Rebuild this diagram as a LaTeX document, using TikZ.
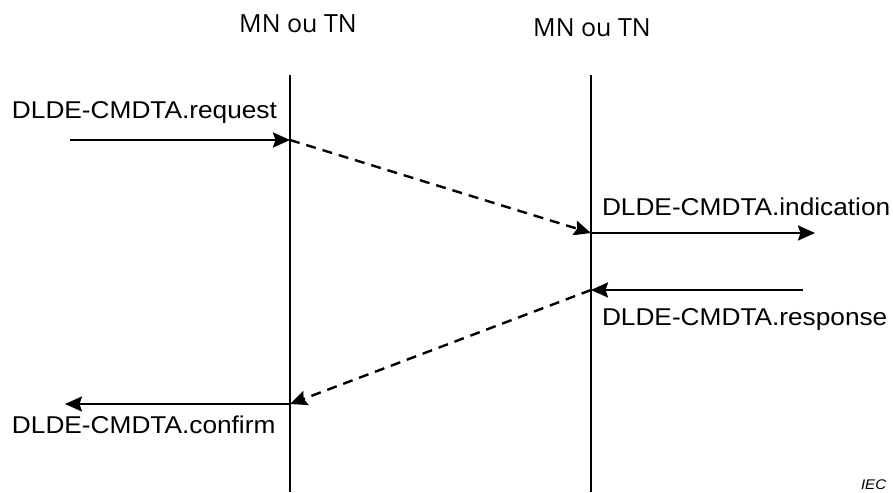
\documentclass[tikz,border=0pt]{standalone}
\usepackage{fontspec}
\setmainfont{Liberation Sans}[FakeStretch=1.08]
\newfontfamily\headfont{Open Sans}
\usetikzlibrary{arrows.meta}

\begin{document}
\begin{tikzpicture}
            [x=1pt,y=-1pt,every node/.style={inner sep=0,outer sep=0},
             lbl/.style={anchor=base west,font=\fontsize{24.3}{28}\selectfont},
             head/.style={anchor=base,font=\headfont\fontsize{25}{29}\selectfont},
             life/.style={line width=2.4pt, black},
             msg/.style={line width=2.4pt, black,-{Stealth[length=17pt,width=15pt,inset=2.5pt]}},
             flow/.style={msg,dash pattern=on 10pt off 7pt}]

            \useasboundingbox (0,0) rectangle (893,492);

            \node[head] (h1) at (298,33) {MN ou TN};
            \node[head] (h2) at (592,37) {MN ou TN};

            \coordinate (t1) at (290,75);
            \coordinate (b1) at (290,492);
            \coordinate (t2) at (591,75);
            \coordinate (b2) at (591,492);

            \coordinate (req) at (290,140);
            \coordinate (ind) at (591,233);
            \coordinate (rsp) at (591,290);
            \coordinate (cnf) at (290,404);
            \coordinate (reqin) at (70,140);
            \coordinate (indout) at (815,233);
            \coordinate (rspin) at (803,290);
            \coordinate (cnfout) at (65,404);

            \node[lbl] (l1) at (12,118) {DLDE-CMDTA.request};
            \node[lbl] (l2) at (602,215) {DLDE-CMDTA.indication};
            \node[lbl] (l3) at (602,325) {DLDE-CMDTA.response};
            \node[lbl] (l4) at (12,433) {DLDE-CMDTA.confirm};
            \node[anchor=base west,font=\itshape\fontsize{14}{16}\selectfont] (iec) at (861,489) {IEC};

            \draw[life] (t1) -- (b1);
            \draw[life] (t2) -- (b2);

            \draw[msg] (reqin) -- (req);
            \draw[flow] (req) -- (ind);
            \draw[msg] (ind) -- (indout);
            \draw[msg] (rspin) -- (rsp);
            \draw[flow] (rsp) -- (cnf);
            \draw[msg] (cnf) -- (cnfout);
          \end{tikzpicture}
\end{document}
